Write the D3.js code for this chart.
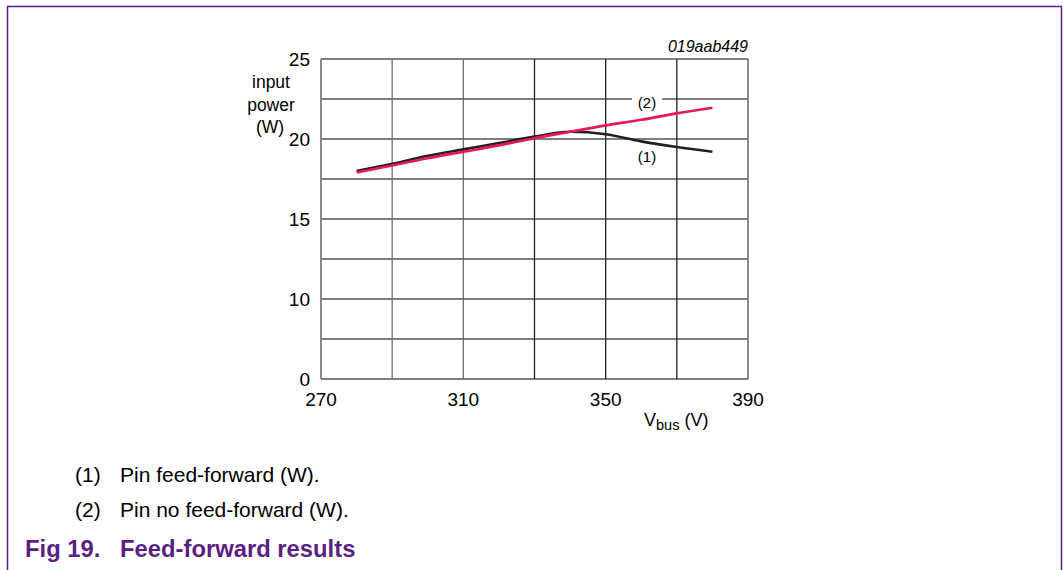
<!DOCTYPE html>
<html lang="en">
<head>
    <meta charset="UTF-8">
    <title>Fig 19. Feed-forward results</title>
    <script src="https://cdnjs.cloudflare.com/ajax/libs/d3/7.8.5/d3.min.js"></script>
    <style>
        body { margin: 0; background: #fff; }
        svg { display: block; font-family: "Liberation Sans", Arial, sans-serif; }
    </style>
</head>
<body>
<svg id="chart" width="1063" height="570"></svg>
<script>
    // data
    const vbus = [280, 290, 300, 310, 320, 330, 340, 350, 360, 370, 380];
    const pinFeedForward = [18.0, 18.45, 18.95, 19.35, 19.75, 20.15, 20.45, 20.3, 19.85, 19.5, 19.2];
    const pinNoFeedForward = [17.9, 18.35, 18.8, 19.2, 19.6, 20.05, 20.45, 20.85, 21.2, 21.6, 21.95];

    // y axis is broken: bottom line is labelled 0
    const yGrid = [5, 7.5, 10, 12.5, 15, 17.5, 20, 22.5, 25];
    const yTicks = [5, 10, 15, 20, 25];
    const yTickLabels = ["0", "10", "15", "20", "25"];
    const xGrid = [270, 290, 310, 330, 350, 370, 390];
    const xTicks = [270, 310, 350, 390];

    const notes = ["Pin feed-forward (W).", "Pin no feed-forward (W)."];

    const svg = d3.select("#chart");
    const purple = "#5b1f83";

    // page frame
    svg.append("path")
        .attr("d", "M7.5,570 V6.5 H1061.5 V570")
        .attr("fill", "none")
        .attr("stroke", purple)
        .attr("stroke-width", 1.5);

    const x = d3.scaleLinear().domain([270, 390]).range([321, 748]);
    const y = d3.scaleLinear().domain([5, 25]).range([379, 59]);

    // horizontal grid
    svg.append("g").selectAll("line")
        .data(yGrid)
        .join("line")
        .attr("x1", x(270)).attr("x2", x(390))
        .attr("y1", d => y(d)).attr("y2", d => y(d))
        .attr("stroke", "#000")
        .attr("stroke-width", 1.2);

    // vertical grid
    svg.append("g").selectAll("line")
        .data(xGrid)
        .join("line")
        .attr("x1", d => x(d)).attr("x2", d => x(d))
        .attr("y1", y(25)).attr("y2", y(5))
        .attr("stroke", d => (d <= 310 || d === 390) ? "#6e6e6e" : "#222")
        .attr("stroke-width", d => (d === 270 || d === 390) ? 1.6 : 1.3);

    // y tick labels
    svg.append("g").selectAll("text")
        .data(yTicks)
        .join("text")
        .attr("x", x(270) - 11)
        .attr("y", d => y(d))
        .attr("dy", "0.36em")
        .attr("text-anchor", "end")
        .attr("font-size", 19)
        .text((d, i) => yTickLabels[i]);

    // x tick labels
    svg.append("g").selectAll("text")
        .data(xTicks)
        .join("text")
        .attr("x", d => x(d))
        .attr("y", 406)
        .attr("text-anchor", "middle")
        .attr("font-size", 19)
        .text(d => d);

    // y axis title
    const yTitle = svg.append("text")
        .attr("text-anchor", "middle")
        .attr("font-size", 17.5);
    ["input", "power", "(W)"].forEach((t, i) => {
        yTitle.append("tspan")
            .attr("x", i === 2 ? 270 : 271)
            .attr("y", 88 + i * 22.5)
            .text(t);
    });

    // x axis title
    const xTitle = svg.append("text")
        .attr("x", 644)
        .attr("y", 426)
        .attr("font-size", 18);
    xTitle.append("tspan").text("V");
    xTitle.append("tspan").attr("font-size", 14.5).attr("dy", 4).text("bus");
    xTitle.append("tspan").attr("dy", -4).text(" (V)");

    // figure id
    svg.append("text")
        .attr("x", 748)
        .attr("y", 52)
        .attr("text-anchor", "end")
        .attr("font-size", 16)
        .attr("font-style", "italic")
        .text("019aab449");

    const line = d3.line()
        .x((d, i) => x(vbus[i]))
        .y(d => y(d))
        .curve(d3.curveMonotoneX);

    svg.append("path")
        .datum(pinFeedForward)
        .attr("d", line)
        .attr("fill", "none")
        .attr("stroke", "#231f20")
        .attr("stroke-width", 2.6);

    svg.append("path")
        .datum(pinNoFeedForward)
        .attr("d", line)
        .attr("fill", "none")
        .attr("stroke", "#e8185a")
        .attr("stroke-width", 2.6);

    // curve labels
    svg.append("rect")
        .attr("x", 632).attr("y", 93)
        .attr("width", 30).attr("height", 14)
        .attr("fill", "#fff");
    svg.append("text")
        .attr("x", 647).attr("y", 108)
        .attr("text-anchor", "middle")
        .attr("font-size", 15)
        .text("(2)");
    svg.append("text")
        .attr("x", 647).attr("y", 162)
        .attr("text-anchor", "middle")
        .attr("font-size", 15)
        .text("(1)");

    // footnotes
    notes.forEach((t, i) => {
        svg.append("text")
            .attr("x", 75)
            .attr("y", 482 + i * 35)
            .attr("font-size", 21)
            .text("(" + (i + 1) + ")");
        svg.append("text")
            .attr("x", 120)
            .attr("y", 482 + i * 35)
            .attr("font-size", 21)
            .text(t);
    });

    // figure caption
    svg.append("text")
        .attr("x", 25)
        .attr("y", 557)
        .attr("font-size", 23.8)
        .attr("font-weight", "bold")
        .attr("fill", purple)
        .text("Fig 19.");
    svg.append("text")
        .attr("x", 120)
        .attr("y", 557)
        .attr("font-size", 23.8)
        .attr("font-weight", "bold")
        .attr("fill", purple)
        .text("Feed-forward results");
</script>
</body>
</html>
